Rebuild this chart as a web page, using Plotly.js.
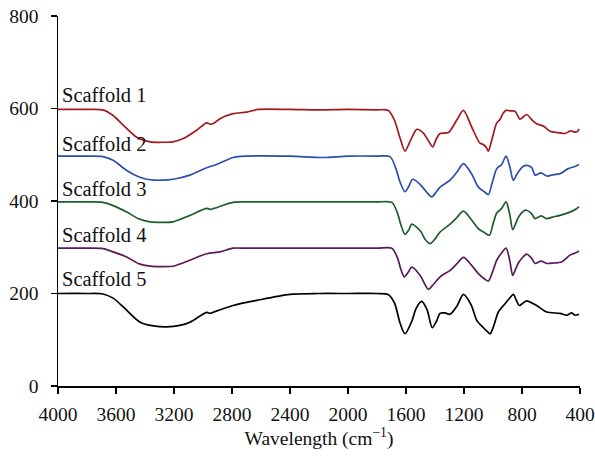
<!DOCTYPE html>
<html>
<head>
<meta charset="utf-8">
<script src="https://cdn.plot.ly/plotly-3.0.1.min.js"></script>
<style>html,body{margin:0;padding:0;background:#fff}#chart{width:595px;height:458px}</style>
</head>
<body>
<div id="chart"></div>
<script>
// Wavenumbers (cm^-1) and values
const wn1 = [4000,3800,3690,3620,3550,3458,3365,3280,3207,3136,3044,2975,2950,2925,2883,2793,2700,2620,2400,2200,2000,1800,1724,1680,1640,1607,1570,1526,1480,1445,1416,1390,1365,1308,1250,1204,1147,1090,1066,1045,1032,1010,974,952,930,910,880,848,814,790,768,730,699,653,607,550,503,470,457,434,418,407];
const s1 = [598,598,597,585,564,538,528,527,528,535,553,569,566,568,578,589,592,598,598,597,598,597,596,575,535,508,530,555,547,530,517,535,546,548,575,596,560,525,522,515,508,530,569,576,590,596,595,594,577,582,587,575,567,562,551,548,546,551,551,549,550,556];

const wn2 = [4000,3800,3690,3620,3526,3440,3365,3280,3207,3090,2975,2906,2793,2700,2400,2172,2000,1800,1710,1670,1640,1607,1580,1554,1500,1460,1423,1395,1365,1296,1250,1204,1150,1101,1060,1032,1005,974,940,910,885,860,840,825,790,768,733,710,668,630,580,538,481,440,407];
const s2 = [497,497,496,488,466,452,446,445,447,456,472,479,494,497,497,494,497,497,496,470,440,420,432,447,435,420,409,418,430,445,462,481,460,430,420,414,440,470,479,497,475,445,455,463,475,477,472,456,461,454,457,459,470,474,479];

const wn3 = [4000,3800,3690,3620,3526,3440,3365,3280,3207,3090,2975,2950,2925,2793,2700,2400,2000,1800,1698,1660,1635,1607,1580,1561,1500,1470,1434,1400,1365,1296,1250,1204,1150,1101,1060,1025,1000,974,940,910,885,864,845,825,790,768,733,710,668,630,580,538,469,430,407];
const s3 = [398,398,397,390,376,361,355,354,355,369,384,382,384,397,398,398,398,398,397,375,348,328,338,350,335,318,308,318,333,350,364,378,360,340,332,326,350,374,384,398,372,338,350,365,378,380,372,362,368,362,366,369,376,382,388];

const wn4 = [4000,3800,3690,3620,3526,3440,3365,3280,3207,3090,2975,2883,2793,2700,2400,2000,1800,1698,1660,1635,1612,1585,1561,1500,1470,1446,1410,1365,1296,1250,1204,1150,1101,1060,1032,1005,974,940,910,885,864,845,825,790,768,733,710,668,630,580,527,469,430,407];
const s4 = [298,298,297,290,279,264,259,258,259,272,286,290,298,298,298,298,298,298,278,252,236,246,257,238,220,209,220,236,250,264,278,262,243,232,227,245,272,288,298,272,239,252,266,280,285,276,265,270,265,266,268,283,288,292];

const wn5 = [4000,3800,3690,3620,3550,3434,3340,3250,3160,3090,2975,2950,2925,2793,2630,2400,2200,2000,1800,1724,1680,1640,1607,1560,1530,1492,1455,1419,1390,1365,1331,1296,1250,1204,1150,1112,1066,1040,1020,995,963,917,885,860,840,819,790,768,699,630,538,492,457,434,407];
const s5 = [200,200,199,190,171,138,130,128,131,138,159,157,160,174,185,198,200,200,200,198,180,135,113,140,168,183,165,126,140,157,158,155,172,198,175,142,126,118,113,130,160,178,190,198,186,174,180,184,174,160,157,153,158,153,155];

const seriesNames = ["Scaffold 1","Scaffold 2","Scaffold 3","Scaffold 4","Scaffold 5"];
const labelY = [630,524,426,327,232];
const xTicks = [4000,3600,3200,2800,2400,2000,1600,1200,800,400];
const yTicks = [0,200,400,600,800];

const colors = ["#a3191f","#2d4fab","#1e5e2b","#5a1a5a","#000000"];
const xs = [wn1,wn2,wn3,wn4,wn5];
const ys = [s1,s2,s3,s4,s5];

const traces = xs.map((x,i)=>({
  x:x, y:ys[i], type:'scatter', mode:'lines', name:seriesNames[i],
  line:{color:colors[i], width:1.7, shape:'spline', smoothing:0.8},
  hoverinfo:'skip'
}));

const font = {family:'"Liberation Serif", "DejaVu Serif", serif', size:19.5, color:'#111'};

const annotations = seriesNames.map((t,i)=>({
  x:3984, y:labelY[i], xref:'x', yref:'y', text:t, showarrow:false,
  xanchor:'left', yanchor:'middle', font:Object.assign({}, font, {size:20.5})
}));

const layout = {
  width:595, height:458,
  margin:{l:58, r:15, t:16, b:72},
  paper_bgcolor:'#fff', plot_bgcolor:'#fff',
  showlegend:false,
  font:font,
  xaxis:{
    range:[4000,400], tickmode:'array', tickvals:xTicks, ticktext:xTicks.map(String),
    showgrid:false, zeroline:false, showline:true, linecolor:'#000', linewidth:1.5,
    ticks:'outside', ticklen:6, tickwidth:1.2, tickcolor:'#000',
    tickfont:font, ticklabelstandoff:4,
    title:{text:'Wavelength (cm<sup>−1</sup>)', font:font, standoff:6}
  },
  yaxis:{
    range:[0,800], tickmode:'array', tickvals:yTicks, ticktext:yTicks.map(String),
    showgrid:false, zeroline:false, showline:true, linecolor:'#000', linewidth:1.5,
    ticks:'outside', ticklen:6, tickwidth:1.2, tickcolor:'#000',
    tickfont:font, ticklabelstandoff:8
  },
  annotations:annotations
};

Plotly.newPlot('chart', traces, layout, {staticPlot:true, displayModeBar:false});
</script>
</body>
</html>
